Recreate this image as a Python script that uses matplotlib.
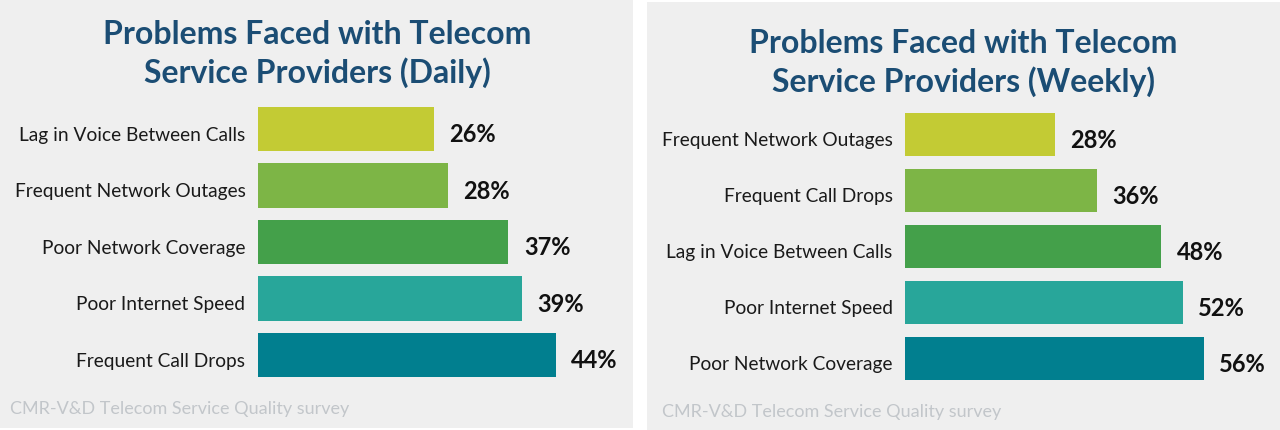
import matplotlib
matplotlib.use('Agg')
import matplotlib.pyplot as plt
from matplotlib.patches import Rectangle

# data
daily_labels = ['Lag in Voice Between Calls', 'Frequent Network Outages', 'Poor Network Coverage',
                'Poor Internet Speed', 'Frequent Call Drops']
daily_values = [26, 28, 37, 39, 44]
weekly_labels = ['Frequent Network Outages', 'Frequent Call Drops', 'Lag in Voice Between Calls',
                 'Poor Internet Speed', 'Poor Network Coverage']
weekly_values = [28, 36, 48, 52, 56]
bar_colors = ['#c3cb34', '#7db546', '#44a04a', '#28a69a', '#017f8f']
titles = ['Problems Faced with Telecom\nService Providers (Daily)',
          'Problems Faced with Telecom\nService Providers (Weekly)']
source = 'CMR-V&D Telecom Service Quality survey'

W, H = 1280, 430
plt.rcParams['font.family'] = ['Lato', 'DejaVu Sans']
fig = plt.figure(figsize=(W / 100, H / 100), dpi=100)
fig.patch.set_facecolor('white')


def px(x0, y0, x1, y1):
    # pixel box (top-left origin) -> figure fraction rect
    return [x0 / W, 1 - y1 / H, (x1 - x0) / W, (y1 - y0) / H]


def panel(bg, ax_box, xmax, height, labels, values, title, title_xy, src_xy):
    fig.patches.append(Rectangle((bg[0] / W, 1 - bg[3] / H), (bg[2] - bg[0]) / W,
                                 (bg[3] - bg[1]) / H, transform=fig.transFigure,
                                 facecolor='#efefef', edgecolor='none', zorder=-1))
    ax = fig.add_axes(px(*ax_box))
    ax.patch.set_alpha(0)
    ypos = list(range(len(values)))
    ax.barh(ypos, values, height=height, color=bar_colors)
    ax.set_xlim(0, xmax)
    ax.set_ylim(len(values) - 0.5, -0.5)
    ax.set_xticks([])
    ax.set_yticks([])
    for s in ax.spines.values():
        s.set_visible(False)
    # category labels sit a little below the bar centre, as in the source
    for y, lab in zip(ypos, labels):
        ax.annotate(lab, (0, y), xycoords=('axes fraction', 'data'), xytext=(-9, -4.5),
                    textcoords='offset points', ha='right', va='center',
                    fontsize=13.8, color='#1a1a1a')
    for y, v in zip(ypos, values):
        ax.annotate(f'{v}%', (v, y), xytext=(11, -4), textcoords='offset points',
                    ha='left', va='center', fontsize=17, fontweight='bold', color='#111111')
    fig.text(title_xy[0] / W, 1 - title_xy[1] / H, title, ha='center', va='center',
             fontsize=23, fontweight='bold', color='#1b4d74', linespacing=1.36)
    fig.text(src_xy[0] / W, 1 - src_xy[1] / H, source, ha='left', va='center',
             fontsize=13, color='#c2c6ca')


# left panel: 6.77 px per %, right panel: 5.34 px per %
panel((0, 0, 633, 428), (258, 100.75, 258 + 50 * 6.77, 383.25), 50, 0.78,
      daily_labels, daily_values, titles[0], (317, 54), (10, 409))
panel((647, 2, 1280, 430), (905, 106.5, 905 + 60 * 5.34, 386.5), 60, 0.77,
      weekly_labels, weekly_values, titles[1], (963, 63), (662, 412))

fig.savefig('out.png', dpi=100, facecolor=fig.get_facecolor())
